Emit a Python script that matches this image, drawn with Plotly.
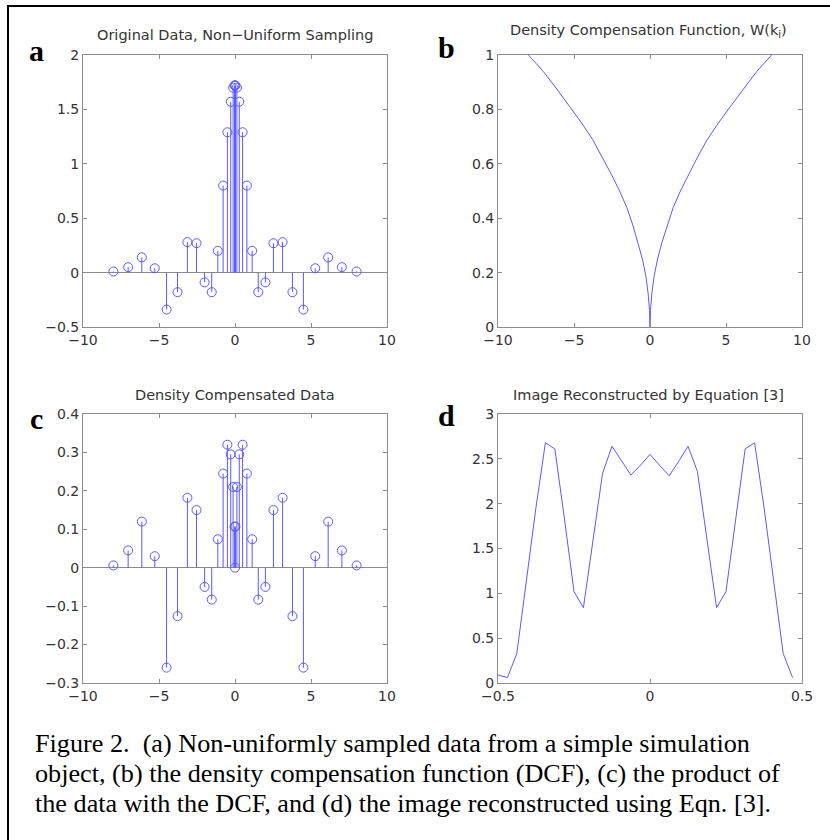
import plotly.graph_objects as go

W_PX, H_PX = 830, 840

# ---- data -------------------------------------------------------------
# non-uniform sample positions k (panels a, b, c)
k_pos = [-8.0, -7.03, -6.13, -5.28, -4.5, -3.78, -3.13, -2.53, -2.0, -1.53,
         -1.13, -0.78, -0.5, -0.28, -0.125, -0.03, 0.0, 0.03, 0.125, 0.28,
         0.5, 0.78, 1.13, 1.53, 2.0, 2.53, 3.13, 3.78, 4.5, 5.28, 6.13,
         7.03, 8.0]
# (a) original data
orig_data = [0.01, 0.05, 0.14, 0.04, -0.34, -0.18, 0.28, 0.27, -0.09, -0.18,
             0.20, 0.80, 1.29, 1.57, 1.70, 1.72, 1.72, 1.72, 1.70, 1.57,
             1.29, 0.80, 0.20, -0.18, -0.09, 0.27, 0.28, -0.18, -0.34, 0.04,
             0.14, 0.05, 0.01]
# (b) density compensation function
dcf = [1.0, 0.94, 0.875, 0.81, 0.75, 0.69, 0.625, 0.56, 0.5, 0.44, 0.375,
       0.31, 0.25, 0.19, 0.125, 0.06, 0.0, 0.06, 0.125, 0.19, 0.25, 0.31,
       0.375, 0.44, 0.5, 0.56, 0.625, 0.69, 0.75, 0.81, 0.875, 0.94, 1.0]
# (c) density compensated data
comp_data = [0.006, 0.045, 0.12, 0.03, -0.26, -0.126, 0.182, 0.15, -0.05,
             -0.083, 0.074, 0.245, 0.32, 0.295, 0.21, 0.107, 0.0, 0.107, 0.21,
             0.295, 0.32, 0.245, 0.074, -0.083, -0.05, 0.15, 0.182, -0.126,
             -0.26, 0.03, 0.12, 0.045, 0.006]
# (d) reconstructed image
img_x = [-0.5, -0.469, -0.438, -0.406, -0.375, -0.344, -0.313, -0.281,
         -0.25, -0.219, -0.188, -0.156, -0.125, -0.094, -0.063, -0.031, 0.0,
         0.031, 0.063, 0.094, 0.125, 0.156, 0.188, 0.219, 0.25, 0.281,
         0.313, 0.344, 0.375, 0.406, 0.438, 0.469]
img_y = [0.09, 0.06, 0.33, 1.16, 1.96, 2.68, 2.61, 1.82, 1.02, 0.84, 1.60,
         2.34, 2.64, 2.48, 2.32, 2.43, 2.55, 2.43, 2.31, 2.47, 2.64, 2.36,
         1.60, 0.84, 1.02, 1.82, 2.61, 2.68, 1.96, 1.16, 0.33, 0.06]

titles = ["Original Data, Non\u2212Uniform Sampling",
          "Density Compensation Function, W(k<sub>i</sub>)",
          "Density Compensated Data",
          "Image Reconstructed by Equation [3]"]
panel_letters = ["a", "b", "c", "d"]
caption_lines = [
    "Figure 2.  (a) Non-uniformly sampled data from a simple simulation",
    "object, (b) the density compensation function (DCF), (c) the product of",
    "the data with the DCF, and (d) the image reconstructed using Eqn. [3].",
]

# ---- styling ------------------------------------------------------------
BLUE = "#5a5aff"
AXC = "#8c8c8c"
TXT = "#333333"
SANS = "DejaVu Sans, Arial, sans-serif"
SERIF = "Liberation Serif, Times New Roman, serif"

# plot boxes in pixels (left, right, top, bottom)
boxes = {
    1: (83, 387, 55, 327),
    2: (498, 802, 55, 327),
    3: (83, 387, 414, 683),
    4: (498, 802, 414, 683),
}


def px_x(v):
    return v / W_PX


def px_y(v):
    return 1 - v / H_PX


fig = go.Figure()


def stems(xs, ys, axn):
    lx, ly = [], []
    for x, y in zip(xs, ys):
        lx += [x, x, None]
        ly += [0, y, None]
    sfx = "" if axn == 1 else str(axn)
    fig.add_trace(go.Scatter(x=lx, y=ly, mode="lines",
                             line=dict(color=BLUE, width=1),
                             xaxis="x" + sfx, yaxis="y" + sfx,
                             showlegend=False, hoverinfo="skip"))
    fig.add_trace(go.Scatter(x=xs, y=ys, mode="markers",
                             marker=dict(symbol="circle-open", size=9,
                                         color=BLUE, line=dict(width=1)),
                             xaxis="x" + sfx, yaxis="y" + sfx,
                             showlegend=False))


stems(k_pos, orig_data, 1)
fig.add_trace(go.Scatter(x=k_pos, y=dcf, mode="lines",
                         line=dict(color=BLUE, width=1),
                         xaxis="x2", yaxis="y2", showlegend=False))
stems(k_pos, comp_data, 3)
fig.add_trace(go.Scatter(x=img_x, y=img_y, mode="lines",
                         line=dict(color=BLUE, width=1),
                         xaxis="x4", yaxis="y4", showlegend=False))

axis_cfg = {
    1: dict(xr=[-10, 10], xt=[-10, -5, 0, 5, 10], yr=[-0.5, 2],
            yt=[-0.5, 0, 0.5, 1, 1.5, 2], zero=True),
    2: dict(xr=[-10, 10], xt=[-10, -5, 0, 5, 10], yr=[0, 1],
            yt=[0, 0.2, 0.4, 0.6, 0.8, 1], zero=False),
    3: dict(xr=[-10, 10], xt=[-10, -5, 0, 5, 10], yr=[-0.3, 0.4],
            yt=[-0.3, -0.2, -0.1, 0, 0.1, 0.2, 0.3, 0.4], zero=True),
    4: dict(xr=[-0.5, 0.5], xt=[-0.5, 0, 0.5], yr=[0, 3],
            yt=[0, 0.5, 1, 1.5, 2, 2.5, 3], zero=False),
}

layout = dict(
    width=W_PX, height=H_PX,
    margin=dict(l=0, r=0, t=0, b=0, autoexpand=False),
    paper_bgcolor="white", plot_bgcolor="white",
    showlegend=False,
)

for n, (l, r, t, b) in boxes.items():
    c = axis_cfg[n]
    sfx = "" if n == 1 else str(n)
    common = dict(showgrid=False, showline=True, linecolor=AXC, linewidth=1,
                  mirror="ticks", ticks="inside", ticklen=4, tickcolor=AXC,
                  automargin=False,
                  tickfont=dict(family=SANS, size=14, color=TXT))
    layout["xaxis" + sfx] = dict(common, domain=[px_x(l), px_x(r)],
                                 range=c["xr"], tickvals=c["xt"],
                                 anchor="y" + sfx, zeroline=False)
    layout["yaxis" + sfx] = dict(common, domain=[px_y(b), px_y(t)],
                                 range=c["yr"], tickvals=c["yt"],
                                 anchor="x" + sfx, zeroline=c["zero"],
                                 zerolinecolor=AXC, zerolinewidth=1)

fig.update_layout(**layout)

annotations = []
title_pos = [(235, 35), (648, 31), (235, 395), (648, 395)]
for txt, (cx, cy) in zip(titles, title_pos):
    annotations.append(dict(text=txt, x=px_x(cx), y=px_y(cy), xref="paper",
                            yref="paper", xanchor="center", yanchor="middle",
                            showarrow=False,
                            font=dict(family=SANS, size=14.5, color=TXT)))
letter_pos = [(36, 50), (446, 47), (36, 418), (446, 415)]
for txt, (cx, cy) in zip(panel_letters, letter_pos):
    annotations.append(dict(text="<b>%s</b>" % txt, x=px_x(cx), y=px_y(cy),
                            xref="paper", yref="paper", xanchor="center",
                            yanchor="middle", showarrow=False,
                            font=dict(family=SERIF, size=30, color="black")))
for i, line in enumerate(caption_lines):
    annotations.append(dict(text=line, x=px_x(33), y=px_y(743 + 30 * i),
                            xref="paper", yref="paper", xanchor="left",
                            yanchor="middle", align="left", showarrow=False,
                            font=dict(family=SERIF, size=26.2, color="black")))
fig.update_layout(annotations=annotations)

fig.add_shape(type="rect", xref="paper", yref="paper",
              x0=px_x(8), x1=1.02, y0=-0.02, y1=px_y(6),
              line=dict(color="black", width=2), fillcolor="rgba(0,0,0,0)")

fig.write_html("out.html",
               config={"displayModeBar": False},
               post_script="document.body.style.margin='0px';"
                           "document.body.style.overflow='hidden';")
